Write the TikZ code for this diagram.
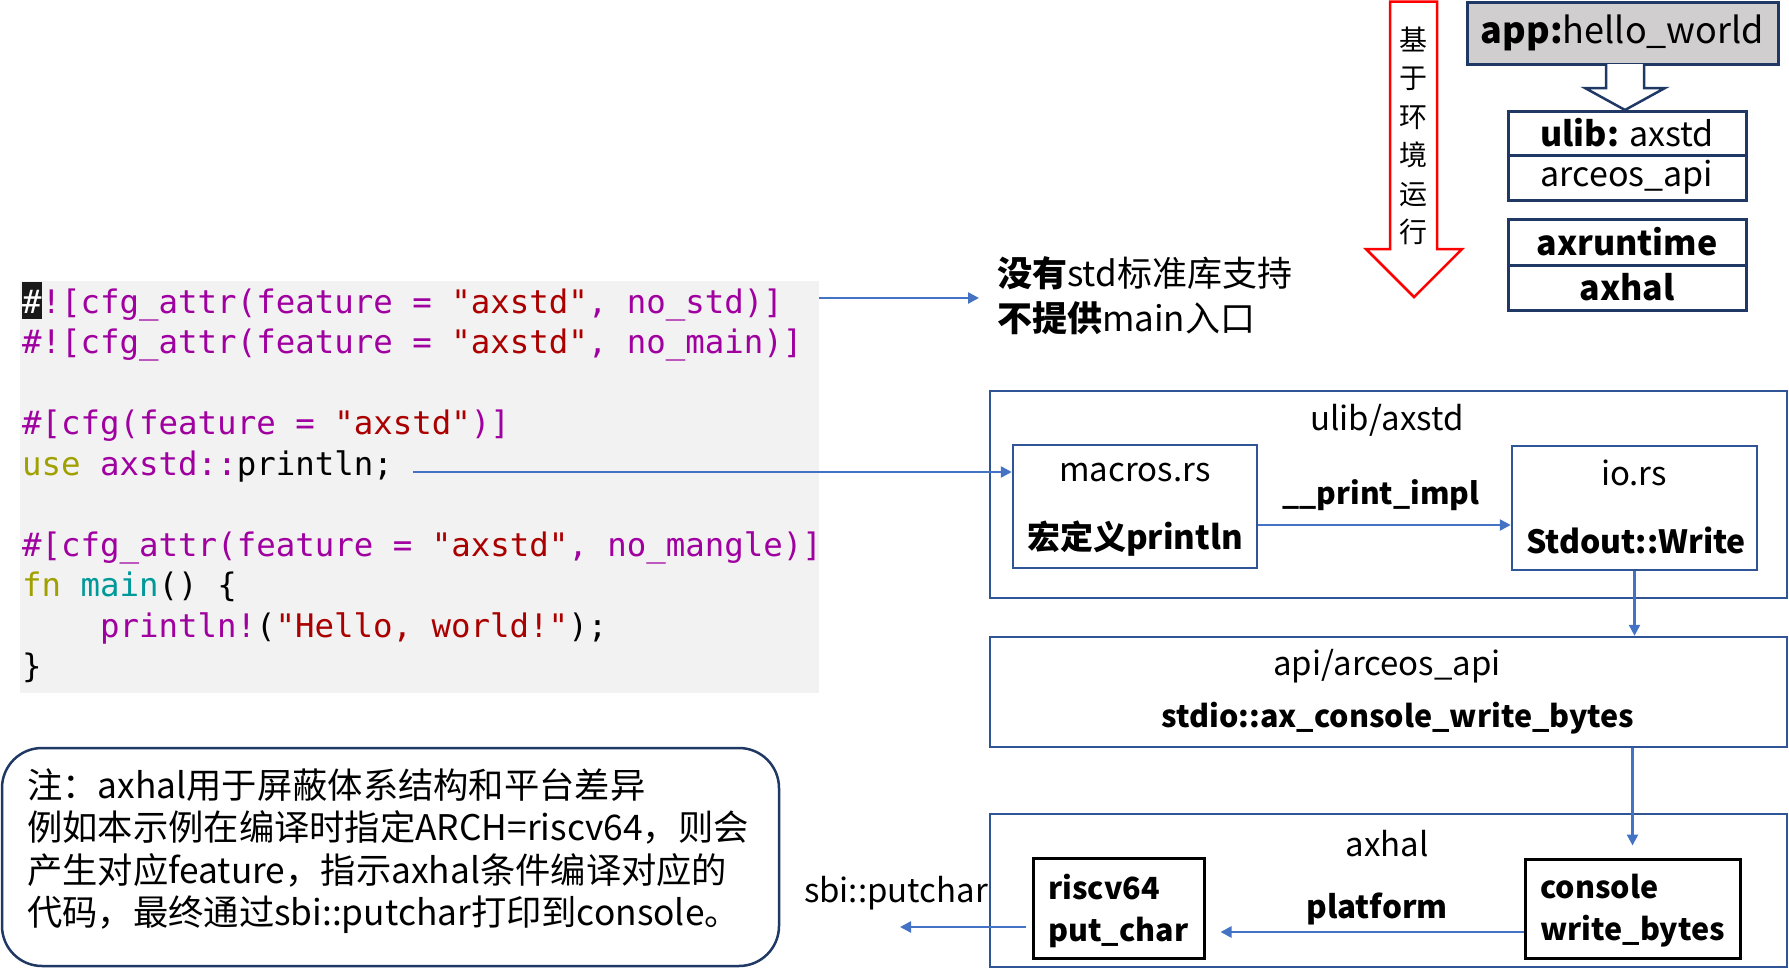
\documentclass[tikz,border=0pt]{standalone}
\usepackage{fontspec}
\setmainfont{Noto Sans CJK SC}
\newfontfamily\codefont{DejaVu Sans Mono}
\usetikzlibrary{arrows.meta,calc}
\definecolor{cpurple}{HTML}{A000A0}
\definecolor{cred}{HTML}{AA0000}
\definecolor{colive}{HTML}{A0A000}
\definecolor{cteal}{HTML}{009999}
\definecolor{navy}{HTML}{1F3864}
\definecolor{boxblue}{HTML}{2F5597}
\definecolor{arrblue}{HTML}{4472C4}
\definecolor{appgray}{HTML}{D0CECE}
\definecolor{codebg}{HTML}{F2F2F2}
\newcommand\codeP[1]{\textcolor{cpurple}{#1}}
\newcommand\codeR[1]{\textcolor{cred}{#1}}
\newcommand\codeO[1]{\textcolor{colive}{#1}}
\newcommand\codeT[1]{\textcolor{cteal}{#1}}
\tikzset{
  codeline/.style={anchor=base west, inner sep=0pt, font=\codefont\fontsize{32.4}{32.4}\selectfont},
  arr/.style={draw=arrblue, line width=2.5pt, -{Triangle[length=11pt,width=11pt]}},
  bluebox/.style={draw=boxblue, line width=2.5pt, rectangle, inner sep=0pt},
  blackbox/.style={draw=black, line width=3pt, rectangle, inner sep=0pt},
  navybox/.style={draw=navy, line width=3pt, rectangle, inner sep=0pt},
  lbl/.style={inner sep=0pt, font=\fontsize{33}{40}\selectfont},
  blbl/.style={inner sep=0pt, font=\fontsize{33}{42}\selectfont\bfseries},
  sblbl/.style={inner sep=0pt, font=\fontsize{30.5}{42}\selectfont\bfseries},
}
\begin{document}
\begin{tikzpicture}[x=1pt,y=-1pt]
\useasboundingbox (0,0) rectangle (1789,969);

% ---------- code block ----------
\node[fill=codebg, inner sep=0pt, minimum width=799, minimum height=412, anchor=north west] (codebox) at (20,281) {};
\fill[black!90] (22,282) rectangle (41.5,319);
\node[codeline] (l1) at (22,313) {\textcolor{white}{\#}\codeP{![cfg\_attr(feature = }\codeR{"axstd"}\codeP{, no\_std)]}};
\node[codeline] (l2) at (22,353.5) {\codeP{\#![cfg\_attr(feature = }\codeR{"axstd"}\codeP{, no\_main)]}};
\node[codeline] (l4) at (22,434.5) {\codeP{\#[cfg(feature = }\codeR{"axstd"}\codeP{)]}};
\node[codeline] (l5) at (22,475) {\codeO{use} \codeP{axstd::}println;};
\node[codeline] (l7) at (22,556) {\codeP{\#[cfg\_attr(feature = }\codeR{"axstd"}\codeP{, no\_mangle)]}};
\node[codeline] (l8) at (22,596.5) {\codeO{fn} \codeT{main}() \{};
\node[codeline] (l9) at (99.9,637) {\codeP{println!}(\codeR{"Hello, world!"});};
\node[codeline] (l10) at (22,677.5) {\}};

% ---------- no std text ----------
\node[anchor=west, align=left, inner sep=0pt, font=\fontsize{35}{45}\selectfont] (nostd) at (997,296)
  {{\bfseries 没有}std标准库支持\\{\bfseries 不提供}main入口};
\coordinate (a1s) at (819,298);
\draw[arr] (a1s) -- (a1s -| nostd.west) [shorten >=18pt];

% ---------- top right ----------
\draw[red, line width=2.5pt, fill=white] (1390,1.5) -- (1390,249) -- (1366,249) -- (1414,297) -- (1462,249) -- (1437,249) -- (1437,1.5) -- cycle;
\node[align=center, inner sep=0pt, font=\fontsize{28}{38.5}\selectfont] (env) at (1413,136) {基\\于\\环\\境\\运\\行};

\node[navybox, fill=appgray, minimum width=311, minimum height=62, font=\fontsize{36}{40}\selectfont] (app) at (1622.5,33) {\textbf{app:}hello\_world};
\draw[navy, line width=2.5pt, fill=white] (1606,64) -- (1606,88) -- (1585,88) -- (1625,110) -- (1665,88) -- (1644,88) -- (1644,64);
\node[navybox, minimum width=238, minimum height=44, font=\fontsize{34}{40}\selectfont] (ulibt) at (1627,133) {\textbf{ulib:} axstd};
\node[navybox, minimum width=238, minimum height=45, font=\fontsize{34}{40}\selectfont] (arceost) at (1627,177.5) {arceos\_api};
\node[navybox, minimum width=238, minimum height=46, font=\fontsize{34}{40}\selectfont\bfseries] (axrt) at (1627,242) {axruntime};
\node[navybox, minimum width=238, minimum height=45, font=\fontsize{34}{40}\selectfont\bfseries] (axhalt) at (1627,287.5) {axhal};

% ---------- ulib/axstd ----------
\node[bluebox, minimum width=797, minimum height=207] (ulibbox) at (1388.5,494.5) {};
\node[lbl] (ulibl) at (1387,420) {ulib/axstd};
\node[bluebox, minimum width=244, minimum height=123] (macros) at (1135,506.5) {};
\node[lbl] (macrosl) at (1135,473) {macros.rs};
\node[blbl] (macrosb) at (1135,539) {宏定义println};
\node[bluebox, minimum width=245, minimum height=124] (io) at (1634.5,508) {};
\node[lbl] (iol) at (1634,473) {io.rs};
\node[sblbl, font=\fontsize{32}{40}\selectfont\bfseries] (iob) at (1636,540) {Stdout::Write};
\node[sblbl, font=\fontsize{30}{40}\selectfont\bfseries] (printimpl) at (1381,495) {\_\_print\_impl};

\coordinate (a2s) at (413,472);
\draw[arr] (a2s) -- (a2s -| macros.west);
\coordinate (a3y) at (1300,525);
\draw[arr] (a3y -| macros.east) -- (a3y -| io.west);

% ---------- api ----------
\node[bluebox, minimum width=797, minimum height=110] (api) at (1388.5,692) {};
\node[lbl] (apil) at (1387,666) {api/arceos\_api};
\node[sblbl] (apib) at (1398,718) {stdio::ax\_console\_write\_bytes};
\draw[arr] (io.south) -- (io.south |- api.north);

% ---------- axhal ----------
\node[bluebox, minimum width=797, minimum height=153] (axhalbox) at (1388.5,890.5) {};
\node[lbl] (axhall) at (1387,844) {axhal};
\node[blackbox, minimum width=171, minimum height=100] (riscv) at (1118.5,908) {};
\node[sblbl, anchor=west, align=left] (riscvl) at (1048,911) {riscv64\\put\_char};
\node[blackbox, minimum width=215, minimum height=99] (console) at (1632.5,908.5) {};
\node[sblbl, anchor=west, align=left] (consolel) at (1540,911) {console\\write\_bytes};
\node[sblbl, font=\fontsize{31.5}{40}\selectfont\bfseries] (platform) at (1377,909) {platform};
\node[lbl] (sbi) at (896,893) {sbi::putchar};

\draw[arr] (console.north |- api.south) -- ([yshift=12pt]console.north);
\coordinate (a6y) at (1400,932);
\draw[arr, shorten >=15pt] (a6y -| console.west) -- (a6y -| riscv.east);
\coordinate (sbiend) at (900,927);
\draw[arr, shorten <=6pt] (sbiend -| riscv.west) -- (sbiend);

% ---------- note ----------
\node[draw=navy, line width=2.5pt, rounded corners=40pt, minimum width=777, minimum height=218, inner sep=0pt] (notebox) at (390.5,857) {};
\node[anchor=west, align=left, inner sep=0pt, font=\fontsize{35.3}{42.5}\selectfont] (notetext) at (27,851)
  {注：axhal用于屏蔽体系结构和平台差异\\例如本示例在编译时指定ARCH=riscv64，则会\\产生对应feature，指示axhal条件编译对应的\\代码，最终通过sbi::putchar打印到console。};
\end{tikzpicture}
\end{document}
